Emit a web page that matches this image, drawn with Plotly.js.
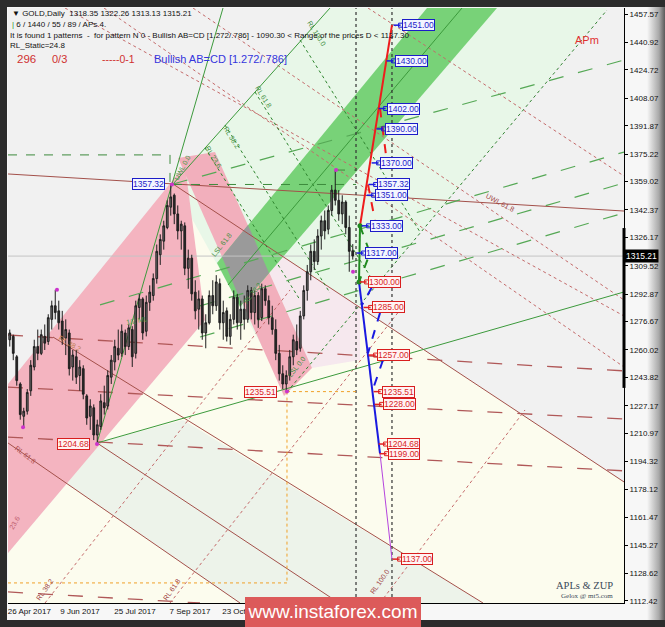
<!DOCTYPE html>
<html><head><meta charset="utf-8">
<script src="https://cdn.plot.ly/plotly-3.0.1.min.js"></script>
<style>
html,body{margin:0;padding:0;background:#2c2c2c;width:665px;height:627px;overflow:hidden;}
#chart{position:absolute;left:7px;top:7px;width:658px;height:613px;
 background:linear-gradient(90deg,#f7f7f7 0,#f7f7f7 640px,#a8a8a8 652px,#5a5a5a 658px);}
#wm{position:absolute;left:245px;top:597px;width:176px;height:30px;background:#dc5a5a;color:#fff;
 font:19px 'Liberation Sans',Arial,sans-serif;line-height:30px;text-align:center;}
</style></head><body>
<div id="chart"></div>
<div id="wm">www.instaforex.com</div>
<script>
// ---------- axis definitions ----------
const PRICE_TICKS = [1457.57,1440.92,1424.72,1408.07,1391.87,1375.22,1359.02,1342.37,1326.17,1309.52,1292.87,1276.67,1260.02,1243.82,1227.17,1210.97,1194.32,1178.12,1161.47,1145.27,1128.62,1112.42];
const DATE_TICK_POS = [6.1,20.57,36.29,52,67.43];
const DATE_TICK_TEXT = ['26 Apr 2017','9 Jun 2017','25 Jul 2017','7 Sep 2017','23 Oct 2017'];
const X_RANGE = [0,176];
const Y_RANGE = [1111.2,1461.1];
const LAST_PRICE = 1315.21;

// ---------- candles (each = one bar slot) ----------
const OPEN  = [1266,1268,1256,1240,1221,1224,1236,1250,1262,1258,1268,1265,1278,1286,1283,1277,1267,1270,1250,1256,1245,1249,1233,1221,1226,1210,1215,1229,1227,1244,1253,1261,1258,1270,1262,1272,1258,1285,1290,1271,1288,1292,1302,1316,1324,1332,1344,1351,1340,1330,1333,1308,1314,1294,1284,1290,1270,1276,1292,1286,1299,1276,1283,1268,1278,1291,1276,1284,1278,1295,1282,1292,1279,1296,1289,1279,1272,1258,1246,1240,1245,1256,1265,1261,1280,1295,1306,1318,1312,1327,1336,1331,1342,1354,1348,1340,1347,1332,1318.35];
const HIGH  = [1272,1269,1257,1241,1226,1237,1254,1266,1272,1272,1275,1281,1289,1295.4,1289,1283,1278,1272,1260,1260,1254,1251,1234,1231,1228,1219,1234,1239,1248,1257,1266,1272,1275,1272,1275,1274,1289,1293,1291,1292,1298,1305,1322,1328,1336,1348,1357.32,1352,1345,1336,1335,1319,1316,1301,1295,1292,1281,1295,1301,1304,1302,1289,1285,1281,1295,1293,1289,1292,1298,1297,1295,1294,1299,1298,1292,1286,1278,1263,1251,1248,1260,1269,1275,1283,1298,1310,1322,1325,1331,1339,1342,1345,1357,1365.8,1354,1351,1348,1339,1322.26];
const LOW   = [1262,1254,1239,1219,1214.5,1222,1233,1248,1254,1257,1260,1263,1272,1278,1272,1263,1257,1245,1242,1240,1236,1231,1216,1213,1207,1204.68,1213,1222,1225,1240,1248,1254,1256,1257,1260,1250,1255,1278,1266,1268,1283,1289,1299,1310,1319,1331,1339,1334,1325,1319,1304,1296,1289,1278,1272,1266,1261,1275,1281,1283,1272,1266,1265,1263,1275,1272,1266,1272,1276,1278,1275,1273,1277,1286,1275,1269,1254,1242,1237,1235.51,1242,1251,1257,1259,1278,1289,1301,1307,1310,1319,1325,1328,1339,1345,1336,1334,1328,1306,1313.13];
const CLOSE = [1270,1258,1242,1222,1224,1235,1251,1262,1258,1269,1264,1279,1286,1282,1276,1266,1272,1249,1257,1244,1250,1234,1220,1227,1210,1216,1230,1226,1245,1254,1262,1257,1271,1262,1273,1256,1286,1290,1270,1288,1294,1302,1318,1325,1333,1345,1350,1340,1330,1334,1308,1314,1293,1283,1290,1270,1276,1292,1286,1300,1276,1282,1268,1278,1291,1276,1284,1278,1295,1282,1292,1278,1296,1289,1279,1272,1258,1246,1240,1245,1256,1266,1260,1280,1295,1306,1318,1312,1327,1336,1330,1342,1354,1348,1340,1347,1332,1318,1315.21];

// ZUP pivot points
const ZUP_X = [4.29,14,25.43,46.86,79.71,93.71,98.57];
const ZUP_Y = [1214.5,1295.4,1204.68,1357.32,1235.51,1365.8,1306];

// ---------- filled zones (bar slot, price) ----------
const ZONE_PALE_YELLOW = [[47.14,1357.6],[176,1182.4],[176,1111.2],[0,1111.2],[0,1140.6],[56.29,1277.6]];
const ZONE_LIGHT_GREEN = [[47.14,1357.6],[92,1461.1],[171.14,1461.1],[79.71,1235.3]];
const ZONE_BOTTOM_BAND = [[0,1205.3],[66.29,1111.2],[135.71,1111.2],[50,1218.8],[25.43,1205.3]];
const ZONE_LIGHT_PINK  = [[70,1326.4],[100.57,1285.3],[100.57,1254.1],[86.86,1249.4]];
const ZONE_PINK_RISE   = [[0,1240.0],[50.57,1368.8],[56.29,1277.6],[0,1140.6]];
const ZONE_PINK_FALL   = [[48.57,1372.9],[59.14,1376.4],[86.86,1249.4],[78.86,1232.9]];
const ZONE_GREEN_BAND  = [[59.71,1311.2],[119.71,1461.1],[139.71,1461.1],[66.29,1285.3]];
const ZONE_OVERLAP     = [[61.14,1314.7],[68.57,1333.5],[74.57,1305.3],[66.86,1287.0]];

// ---------- lines [x0,y0,x1,y1] ----------
const BROWN_SOLID  = [[0,1363.5,176,1341.7],[47.14,1357.6,176,1182.4],[25.43,1205.3,94.57,1111.2],[12.86,1267.6,135.71,1111.2],[0,1205.3,66.29,1111.2]];
const BROWN_DASHED = [[0,1268.8,176,1247.7],[0,1238.2,176,1219.4],[0,1208.8,176,1188.9],[0,1117.7,54.86,1111.2]];
const BROWN_DOTTED = [[52.86,1461.1,176,1289.4],[16.29,1461.1,176,1280.0],[102.86,1461.1,176,1362.3],[27.43,1461.1,176,1250.0],[10.57,1111.2,80.57,1295.3],[46.29,1111.2,112,1283.5],[106.29,1111.2,147.71,1224.7]];
const GREEN_SOLID  = [[25.43,1205.3,61.43,1461.1],[47.14,1357.6,92,1461.1],[25.43,1205.3,176,1294.1],[62.86,1298.2,129.71,1461.1]];
const GREEN_DOTTED = [[79.71,1235.3,171.14,1459.9],[56.29,1378.8,83.43,1289.4],[62,1392.3,92,1293.5],[70.57,1411.7,103.43,1303.5],[83.43,1442.3,117.71,1329.4]];
const GREEN_LONGDASH = [[47.14,1357.6,176,1430.5],[26.29,1286.5,176,1376.4],[54.86,1285.9,176,1358.2],[54.86,1267.6,176,1340.6]];
const GREEN_MARKS  = [[0,1374.7,46.29,1374.7],[46.29,1374.7,46.29,1357.32],[47.14,1357.32,99.43,1357.32],[93.71,1365.8,99.43,1365.8]];
const BLACK_VERT   = [[99.43,1111.2,99.43,1461.1],[109.71,1111.2,109.71,1461.1]];
const ORANGE_DOTTED= [[79.71,1235.51,99.43,1235.51],[79.71,1235.51,79.71,1123.0],[0,1123.0,79.71,1123.0]];

// ---------- AB=CD pattern ----------
const RED_SOLID_X = [100.57,109.71], RED_SOLID_Y = [1333,1451];
const RED_DASH_X = [106.29,108.29,null,102.86,104.86], RED_DASH_Y = [1402,1370,null,1357.32,1336];
const GREEN_LEG_X = [100.29,100.57], GREEN_LEG_Y = [1300,1333];
const GREEN_DASH_X = [100.57,103.43,100.29], GREEN_DASH_Y = [1333,1317,1300];
const BLUE_SOLID_X = [100.29,106.29], BLUE_SOLID_Y = [1300,1199];
const BLUE_DASH_X = [104,101.14,null,106.29,102.86,null,107.14,104], BLUE_DASH_Y = [1297,1286.5,null,1281.8,1258.2,null,1254.1,1235.3];
const VIOLET_X = [106.29,109.71], VIOLET_Y = [1199,1137];

const LEVELS  = [1451,1430,1402,1390,1370,1357.32,1351,1333,1317,1300,1285,1257,1235.51,1228,1204.68,1199,1137];
const LEVEL_X = [112.57,110.57,108.29,107.71,106.29,105.43,104.86,103.43,102,102.86,104,105.43,106.86,107.14,108.29,108.57,112.29];
const LEVEL_UP = [1,1,1,1,1,1,1,1,1,0,0,0,0,0,0,0,0];

const PIVOT_LABELS = [[44.86,1357.32,'1357.32',1],[23.43,1204.68,'1204.68',0],[76.86,1235.51,'1235.51',0]];

const ROT_LABELS = [
 ['UWL 0.0',49.71,1367.6,-62,'#4a9a4a'],
 ['UWL 61.8',140.57,1347.0,28,'#a04545'],
 ['RL 23.6',58.57,1373.5,58,'#3e8e3e'],
 ['RL 38.2',64,1385.2,58,'#3e8e3e'],
 ['RL 61.8',72.86,1408.8,58,'#3e8e3e'],
 ['RL 100.0',88.29,1446.4,58,'#3e8e3e'],
 ['RL 38.2',10.57,1118.9,-55,'#a04545'],
 ['RL 61.8',46.86,1118.9,-55,'#a04545'],
 ['RL 100.0',106.29,1123.6,-55,'#a04545'],
 ['RL 61.8',4.86,1198.3,38,'#b05050'],
 ['23.6',2,1158.3,-60,'#c06070'],
 ['1/2 ML',36.86,1277.6,-10,'#4a9a4a'],
 ['RL 38.2',17.71,1264.1,30,'#c08050'],
 ['LSL 61.8',61.14,1321.8,-52,'#3e8e3e'],
 ['RL 38.2',69.71,1293.5,-52,'#3e8e3e'],
 ['LSL 0.0',82.57,1250.0,-52,'#3e8e3e']
];

// ---------- build ----------
const FONT = "'Liberation Sans', Arial, sans-serif";
const shapes = [];
function poly(pts,color){
  shapes.push({type:'path',xref:'x',yref:'y',layer:'below',fillcolor:color,line:{width:0},
    path:'M'+pts.map(p=>p[0]+','+p[1]).join('L')+'Z'});
}
function segs(arr,color,width,dash){
  arr.forEach(a=>shapes.push({type:'line',xref:'x',yref:'y',layer:'below',x0:a[0],y0:a[1],x1:a[2],y1:a[3],
    line:{color:color,width:width,dash:dash}}));
}
poly(ZONE_PALE_YELLOW,'#fcfcee');
poly(ZONE_LIGHT_GREEN,'#e8f7e8');
poly(ZONE_BOTTOM_BAND,'#edf3ea');
poly(ZONE_LIGHT_PINK,'#f6e8ee');
poly(ZONE_PINK_RISE,'#f4b4c0');
poly(ZONE_PINK_FALL,'#f2afbc');
poly(ZONE_GREEN_BAND,'#78d278');
poly(ZONE_OVERLAP,'#9a9a9a');
segs([[X_RANGE[0],LAST_PRICE,X_RANGE[1],LAST_PRICE]],'#c4c4c4',1,'solid');
segs(BROWN_SOLID,'#a3504a',1,'solid');
segs(BROWN_DASHED,'#b05858',1.3,'longdash');
segs(BROWN_DOTTED,'#c46a6a',1,'dot');
segs(GREEN_SOLID,'#3c9a3c',1,'solid');
segs(GREEN_DOTTED,'#2f862f',1,'dot');
segs(GREEN_LONGDASH,'#55a855',1.2,'longdash');
segs(GREEN_MARKS,'#3c8a3c',1,'dash');
segs(BLACK_VERT,'#333',1.2,'dot');
segs(ORANGE_DOTTED,'#f0a028',1,'dot');
// thick marker on price scale
shapes.push({type:'line',xref:'paper',yref:'y',x0:1,x1:1,y0:1237.7,y1:1331.7,line:{color:'#000',width:3}});

const candleX = OPEN.map((_,i)=>i+0.5);
const traces = [
 {type:'candlestick',x:candleX,open:OPEN,high:HIGH,low:LOW,close:CLOSE,hoverinfo:'skip',whiskerwidth:0,
  increasing:{line:{color:'#1e1e1e',width:1},fillcolor:'#6a6a6a'},
  decreasing:{line:{color:'#1e1e1e',width:1},fillcolor:'#2a2a2a'}},
 {type:'scatter',mode:'lines',x:RED_SOLID_X,y:RED_SOLID_Y,line:{color:'#ee1c1c',width:2}},
 {type:'scatter',mode:'lines',x:RED_DASH_X,y:RED_DASH_Y,line:{color:'#ee1c1c',width:2,dash:'dash'},connectgaps:false},
 {type:'scatter',mode:'lines',x:GREEN_LEG_X,y:GREEN_LEG_Y,line:{color:'#1f8a1f',width:2}},
 {type:'scatter',mode:'lines',x:GREEN_DASH_X,y:GREEN_DASH_Y,line:{color:'#1f8a1f',width:2,dash:'dash'}},
 {type:'scatter',mode:'lines',x:BLUE_SOLID_X,y:BLUE_SOLID_Y,line:{color:'#1a1ae0',width:2}},
 {type:'scatter',mode:'lines',x:BLUE_DASH_X,y:BLUE_DASH_Y,line:{color:'#1a1ae0',width:2,dash:'dash'},connectgaps:false},
 {type:'scatter',mode:'lines',x:VIOLET_X,y:VIOLET_Y,line:{color:'#b444dd',width:1}},
 {type:'scatter',mode:'markers',x:[GREEN_LEG_X[1],GREEN_LEG_X[0]],y:[GREEN_LEG_Y[1],GREEN_LEG_Y[0]],marker:{color:'#1f8a1f',size:5}},
 {type:'scatter',mode:'markers',x:ZUP_X,y:ZUP_Y,marker:{color:'#cc33cc',size:4}}
];
// connectors to level boxes
const upCx=[],upCy=[],dnCx=[],dnCy=[];
LEVELS.forEach((v,i)=>{
  const cx = LEVEL_UP[i]?upCx:dnCx, cy = LEVEL_UP[i]?upCy:dnCy;
  cx.push(LEVEL_X[i]-2.4,LEVEL_X[i]-0.4,null); cy.push(v,v,null);
});
traces.push({type:'scatter',mode:'lines',x:upCx,y:upCy,line:{color:'#1a1ae0',width:1.5}});
traces.push({type:'scatter',mode:'lines',x:dnCx,y:dnCy,line:{color:'#e02020',width:1.5}});
traces.push({type:'scatter',mode:'markers',x:LEVEL_X.map(x=>x-0.4),y:LEVELS,
  marker:{symbol:'square-open',size:4,color:LEVEL_UP.map(u=>u?'#1a1ae0':'#e02020'),line:{width:1}}});

const ann = [];
LEVELS.forEach((v,i)=>{
  const c = LEVEL_UP[i]?'#1c1cc8':'#d81e1e';
  ann.push({xref:'x',yref:'y',x:LEVEL_X[i],y:v,text:v.toFixed(2),showarrow:false,xanchor:'left',yanchor:'middle',
    font:{family:FONT,size:8.5,color:c},bgcolor:LEVEL_UP[i]?'#f3f5ff':'#fff3f3',bordercolor:c,borderwidth:1,borderpad:0});
});
PIVOT_LABELS.forEach(p=>{
  const c = p[3]?'#1c1cc8':'#d81e1e';
  ann.push({xref:'x',yref:'y',x:p[0],y:p[1],text:p[2],showarrow:false,xanchor:'right',yanchor:'middle',
    font:{family:FONT,size:8.5,color:c},bgcolor:p[3]?'#f3f5ff':'#fff3f3',bordercolor:c,borderwidth:1,borderpad:0});
});
ROT_LABELS.forEach(r=>ann.push({xref:'x',yref:'y',x:r[1],y:r[2],text:r[0],textangle:r[3],showarrow:false,
  font:{family:FONT,size:7,color:r[4]}}));

const NB = '\u00a0';
function tl(y,text,size,color,x){
  ann.push({xref:'paper',yref:'paper',x:x,y:y,xanchor:'left',yanchor:'middle',showarrow:false,text:text,
    font:{family:FONT,size:size,color:color}});
}
tl(0.99,'▼ GOLD,Daily'+NB+NB+'1318.35 1322.26 1313.13 1315.21',8,'#111',0.003);
tl(0.9723,'<span style="color:#2a9a2a">|</span> 6 / 1440 / 55 / 89 / APs 4.',8,'#111',0.003);
tl(0.9546,'It is found 1 patterns'+NB+NB+'-'+NB+NB+'for pattern N 0 - Bullish AB=CD [1.272/.786] - 1090.30 &lt; Range of the prices D &lt; 1137.30',8,'#111',0.0);
tl(0.937,'RL_Static=24.8',8,'#111',0.0);
tl(0.915,'296',11.5,'#d03030',0.011);
tl(0.915,'0/3',11,'#d03030',0.068);
tl(0.915,'-----0-1',10.5,'#d03030',0.149);
tl(0.915,'Bullish AB=CD [1.272/.786]',11,'#3535dd',0.233);
tl(0.9462,'APm',11,'#e03030',0.917);
ann.push({xref:'paper',yref:'paper',x:0.985,y:0.030,xanchor:'right',yanchor:'middle',showarrow:false,text:'APLs &amp; ZUP',
  font:{family:"'Liberation Serif', serif",size:10.5,color:'#3a4858'}});
ann.push({xref:'paper',yref:'paper',x:0.985,y:0.011,xanchor:'right',yanchor:'middle',showarrow:false,text:'Gelox @ mt5.com',
  font:{family:"'Liberation Serif', serif",size:7,color:'#3a4858'}});
ann.push({xref:'paper',yref:'y',x:1,y:LAST_PRICE,xanchor:'left',yanchor:'middle',showarrow:false,text:LAST_PRICE.toFixed(2),
  bgcolor:'#000',font:{family:FONT,size:8.5,color:'#fff'},borderpad:1});

const layout = {
  width:658,height:613,margin:{l:1,r:41,t:1,b:17},
  paper_bgcolor:'rgba(0,0,0,0)',plot_bgcolor:'#f1f1f1',showlegend:false,
  font:{family:FONT,size:8,color:'#111'},
  xaxis:{range:X_RANGE,showgrid:false,zeroline:false,showline:true,linecolor:'#000',linewidth:1,
    tickmode:'array',tickvals:DATE_TICK_POS,ticktext:DATE_TICK_TEXT,ticks:'',tickfont:{size:8,color:'#111'},
    ticklabeloverflow:'allow',rangeslider:{visible:false},fixedrange:true},
  yaxis:{range:Y_RANGE,side:'right',showgrid:false,zeroline:false,showline:true,linecolor:'#000',linewidth:1,
    tickmode:'array',tickvals:PRICE_TICKS,ticktext:PRICE_TICKS.map(v=>v.toFixed(2)),ticks:'outside',ticklen:3,
    tickcolor:'#000',tickfont:{size:8,color:'#111'},fixedrange:true},
  shapes:shapes,annotations:ann
};
Plotly.newPlot('chart',traces,layout,{displayModeBar:false,staticPlot:true});
</script></body></html>
